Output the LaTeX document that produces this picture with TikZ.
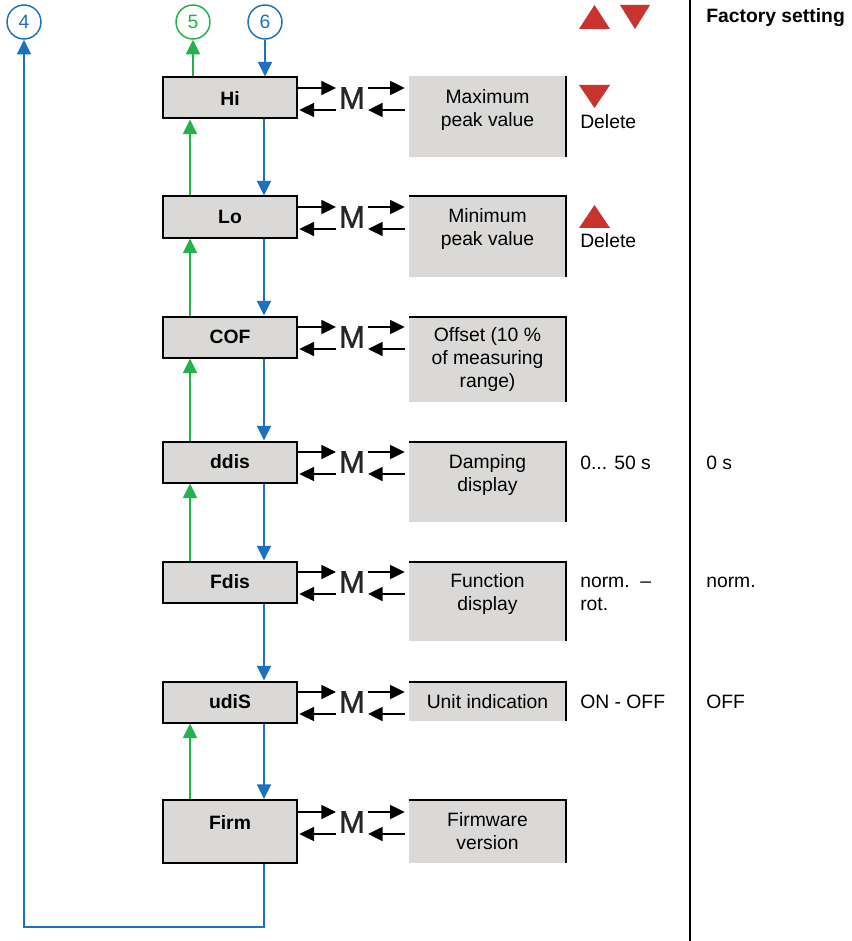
\documentclass[tikz,border=0pt]{standalone}
\usepackage{fontspec}
\setmainfont{Liberation Sans}
\newfontfamily\mfont[FakeBold=1.2]{Liberation Sans}
\usetikzlibrary{arrows.meta,positioning,calc}
\definecolor{boxgray}{RGB}{218,217,216}
\definecolor{lnblue}{RGB}{28,114,192}
\definecolor{lngreen}{RGB}{34,178,76}
\definecolor{trired}{RGB}{201,51,45}
\newcommand{\bodyfont}{\fontsize{14.5}{17.25}\selectfont}
\tikzset{
  menubox/.style={draw, line width=1.5pt, fill=boxgray, minimum width=100.5pt,
                  minimum height=30.75pt, inner sep=0pt, font=\bodyfont\bfseries},
  valbox/.style={fill=boxgray, minimum width=117.75pt, inner sep=0pt, align=center},
  valtxt/.style={align=center, inner sep=0pt},
  mnode/.style={font=\mfont\fontsize{23.5}{23.5}\selectfont, text=black!85, inner sep=0pt, inner xsep=2pt},
  marrow/.style={-{Triangle[length=11pt,width=10.5pt]}, line width=1.1pt},
  grnarrow/.style={-{Triangle[length=11pt,width=10.5pt]}, line width=1.2pt, lngreen},
  bluarrow/.style={-{Triangle[length=11pt,width=10.5pt]}, line width=1.3pt, lnblue},
  circ/.style={circle, draw, line width=1.1pt, minimum size=25.5pt, inner sep=0pt},
  edge/.style={line width=1.5pt},
  note/.style={anchor=west, align=left, inner sep=0pt},
}

\begin{document}
\begin{tikzpicture}[x=0.75pt, y=0.75pt, font=\bodyfont]
  \useasboundingbox (0,0) rectangle (851,-941);

  % menu items
  \node[menubox] (hi)   at (230,-98)  {Hi};
  \node[menubox] (lo)   at (230,-217) {Lo};
  \node[menubox] (cof)  at (230,-337) {COF};
  \node[menubox] (ddis) at (230,-462) {ddis};
  \node[menubox] (fdis) at (230,-582) {Fdis};
  \node[menubox] (udis) at (230,-702) {udiS};
  \node[menubox, minimum height=47.25pt, text depth=14.25pt] (firm) at (230,-831.5) {Firm};

  % value boxes
  \node[valbox, minimum height=60.75pt] (vhi) at (487.5,-116.5) {};
  \node[valtxt] (thi) at (487.5,-110.5) {Maximum\\peak value};
  \node[valbox, minimum height=60.75pt] (vlo) at (487.5,-236.5) {};
  \node[valtxt] (tlo) at (487.5,-229) {Minimum\\peak value};
  \node[valbox, minimum height=63.75pt] (vcof) at (487.5,-359.5) {Offset (10 \%\\of measuring\\range)};
  \node[valbox, minimum height=60pt] (vddis) at (487.5,-482) {};
  \node[valtxt] (tddis) at (487.5,-475) {Damping\\display};
  \node[valbox, minimum height=59.25pt] (vfdis) at (487.5,-601.5) {};
  \node[valtxt] (tfdis) at (487.5,-593.5) {Function\\display};
  \node[valbox, minimum height=29.25pt] (vudis) at (487.5,-701.5) {Unit indication};
  \node[valbox, minimum height=47.25pt] (vfirm) at (487.5,-831.5) {Firmware\\version};

  \draw[edge] (vhi.north east) -- (vhi.south east);
  \foreach \v in {vlo,vcof,vddis,vfdis,vudis,vfirm}
    \draw[edge] (\v.north west) -- (\v.north east) -- (\v.south east);

  % M exchange
  \foreach \b/\y in {hi/98, lo/217, cof/337, ddis/462, fdis/582, udis/702, firm/822}{
    \node[mnode] (m\b) at (352,-\y) {M};
    \draw[marrow] ($(m\b.west -| \b.east)+(0,10)$) -- ($(m\b.west)+(0,10)$);
    \draw[marrow, shorten >=1pt] ($(m\b.west)+(0,-12)$) -- ($(m\b.west -| \b.east)+(0,-12)$);
    \draw[marrow, shorten >=3pt] ($(m\b.east)+(0,10)$) -- ($(m\b.east -| v\b.west)+(0,10)$);
    \draw[marrow, shorten <=3pt] ($(m\b.east -| v\b.west)+(0,-12)$) -- ($(m\b.east)+(0,-12)$);
  }

  % jump marks
  \node[circ, lnblue]  (c4) at (24,-22)  {4};
  \node[circ, lngreen] (c5) at (193,-22) {5};
  \node[circ, lnblue]  (c6) at (265,-22) {6};

  % up (green)
  \draw[grnarrow] (hi.north -| c5.south) -- (c5.south);
  \draw[grnarrow] ([xshift=-30pt]lo.north)   -- ([xshift=-30pt]hi.south);
  \draw[grnarrow] ([xshift=-30pt]cof.north)  -- ([xshift=-30pt]lo.south);
  \draw[grnarrow] ([xshift=-30pt]ddis.north) -- ([xshift=-30pt]cof.south);
  \draw[grnarrow] ([xshift=-30pt]fdis.north) -- ([xshift=-30pt]ddis.south);
  \draw[grnarrow] ([xshift=-30pt]firm.north) -- ([xshift=-30pt]udis.south);

  % down (blue)
  \draw[bluarrow] (c6.south) -- (hi.north -| c6.south);
  \draw[bluarrow] ([xshift=25.5pt]hi.south)   -- ([xshift=25.5pt]lo.north);
  \draw[bluarrow] ([xshift=25.5pt]lo.south)   -- ([xshift=25.5pt]cof.north);
  \draw[bluarrow] ([xshift=25.5pt]cof.south)  -- ([xshift=25.5pt]ddis.north);
  \draw[bluarrow] ([xshift=25.5pt]ddis.south) -- ([xshift=25.5pt]fdis.north);
  \draw[bluarrow] ([xshift=25.5pt]fdis.south) -- ([xshift=25.5pt]udis.north);
  \draw[bluarrow] ([xshift=25.5pt]udis.south) -- ([xshift=25.5pt]firm.north);
  \draw[bluarrow] ([xshift=25.5pt]firm.south) -- ++(0,-63) -| (c4.south);

  % key column
  \fill[trired] (579,-29) -- (610,-29) -- (594.5,-5) -- cycle;
  \fill[trired] (620,-5) -- (650,-5) -- (635,-29) -- cycle;
  \fill[trired] (579,-85) -- (610,-85) -- (594.5,-108) -- cycle;
  \fill[trired] (579,-228) -- (610,-228) -- (594.5,-205) -- cycle;
  \node[note] (dhi)   at (580,-122)   {Delete};
  \node[note] (dlo)   at (580,-241)   {Delete};
  \node[note] (rddis) at (580,-463)   {0... 50 s};
  \node[note] (rfdis) at (580,-593.5) {norm.\ \ –\\rot.};
  \node[note] (rudis) at (580,-702)   {ON - OFF};

  % factory setting
  \draw[edge] (690,0) -- (690,-941);
  \node[note, font=\bodyfont\bfseries] (fset) at (706,-18) {Factory setting};
  \node[note] (fddis) at (706,-463) {0 s};
  \node[note] (ffdis) at (706,-582) {norm.};
  \node[note] (fudis) at (706,-702) {OFF};
\end{tikzpicture}
\end{document}
